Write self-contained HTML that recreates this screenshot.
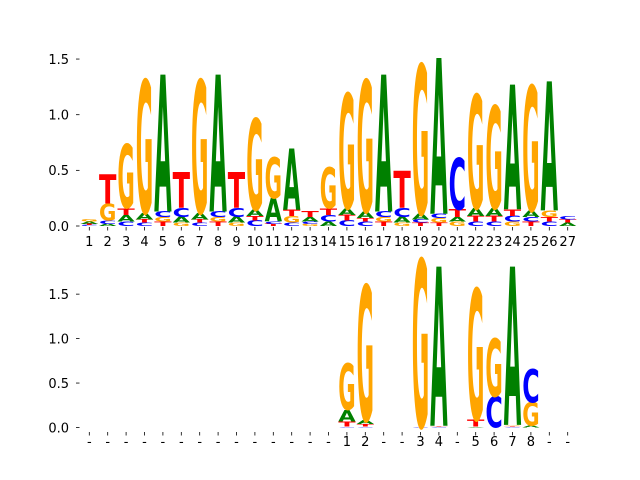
<!DOCTYPE html>
<html><head><meta charset="utf-8"><style>
html,body{margin:0;padding:0;background:#fff;}
svg{display:block;font-family:"DejaVu Sans","Liberation Sans",sans-serif;}
</style></head><body>
<svg id="chart" width="640" height="480" viewBox="0 0 640 480" xmlns="http://www.w3.org/2000/svg"></svg>
<script>
// ---- data ----
// each position: stacked letters bottom-to-top [letter, height in bits]
const topPositions = [
 [["C",.01],["T",.01],["A",.02],["G",.02]],
 [["A",.02],["C",.03],["G",.15],["T",.26]],
 [["C",.04],["A",.06],["T",.06],["G",.57]],
 [["C",.03],["T",.03],["A",.06],["G",1.19]],
 [["T",.04],["G",.04],["C",.05],["A",1.23]],
 [["G",.03],["A",.05],["C",.08],["T",.32]],
 [["C",.03],["T",.03],["A",.06],["G",1.19]],
 [["T",.04],["G",.04],["C",.05],["A",1.23]],
 [["G",.03],["A",.05],["C",.08],["T",.32]],
 [["C",.05],["T",.04],["A",.06],["G",.82]],
 [["T",.02],["C",.02],["A",.21],["G",.37]],
 [["C",.03],["G",.06],["T",.06],["A",.55]],
 [["G",.02],["C",.02],["A",.04],["T",.05]],
 [["A",.04],["C",.06],["T",.06],["G",.37]],
 [["C",.05],["T",.05],["A",.06],["G",1.03]],
 [["C",.04],["T",.03],["A",.06],["G",1.18]],
 [["T",.04],["G",.04],["C",.05],["A",1.23]],
 [["G",.03],["A",.05],["C",.08],["T",.33]],
 [["T",.03],["C",.03],["A",.05],["G",1.34]],
 [["T",.03],["G",.04],["C",.04],["A",1.40]],
 [["G",.04],["A",.04],["T",.07],["C",.46]],
 [["C",.04],["T",.05],["A",.07],["G",1.02]],
 [["C",.04],["T",.05],["A",.07],["G",.92]],
 [["G",.04],["C",.05],["T",.06],["A",1.12]],
 [["T",.04],["C",.04],["A",.06],["G",1.12]],
 [["C",.04],["T",.04],["G",.06],["A",1.16]],
 [["A",.03],["T",.03],["C",.03]]
];
const bottomPositions = [
 [],[],[],[],[],[],[],[],[],[],[],[],[],[],
 [["C",.01],["T",.06],["A",.13],["G",.52]],
 [["C",.01],["T",.03],["A",.04],["G",1.52]],
 [],[],
 [["C",.01],["G",1.88]],
 [["C",.01],["T",.01],["A",1.79]],
 [],
 [["A",.01],["T",.08],["G",1.47]],
 [["C",.35],["G",.65]],
 [["C",.01],["T",.01],["G",.01],["A",1.78]],
 [["A",.02],["G",.26],["C",.37]],
 [],[]
];
const topXLabels = ["1","2","3","4","5","6","7","8","9","10","11","12","13","14","15","16","17","18","19","20","21","22","23","24","25","26","27"];
const bottomXLabels = ["-","-","-","-","-","-","-","-","-","-","-","-","-","-","1","2","-","-","3","4","-","5","6","7","8","-","-"];
const topYTicks = [0,0.5,1.0,1.5];
const bottomYTicks = [0,0.5,1.0,1.5];
const colors = {A:"#008000",C:"#0000ff",G:"#ffa500",T:"#ff0000"};

const NS="http://www.w3.org/2000/svg";
const svg=document.getElementById('chart');
function el(tag,attrs,parent){const e=document.createElementNS(NS,tag);for(const k in attrs)e.setAttribute(k,attrs[k]);(parent||svg).appendChild(e);return e;}

function xScale(i){return 89.3+i*18.4;}
function drawPanel(positions,xlabels,yticks,zeroY,unit,name,labelY,tickTop){
  const yS=v=>zeroY-v*unit;
  const g=el('g',{});
  
  
  const w=17.4;
  positions.forEach((stack,i)=>{
    let cum=0;
    stack.forEach(([L,h])=>{
      const yb=yS(cum), yt=yS(cum+h);
      const ph=yb-yt;
      cum+=h;
      if(ph<=0.05)return;
      const t=el('text',{x:0,y:0,'font-size':100,'font-weight':'bold',fill:colors[L],
        textLength:w,lengthAdjust:'spacingAndGlyphs',
        transform:`translate(${xScale(i)-w/2},${yb}) scale(1,${ph/72.9})`},g);
      
      
      t.textContent=L;
    });
  });
  xlabels.forEach((lab,i)=>{
    const x=xScale(i);
    const tk=el('line',{x1:x,x2:x,y1:tickTop,y2:tickTop+3.5,stroke:'#000','stroke-width':0.8},g);
    
    
    const t=el('text',{x:x,y:labelY,'font-size':13,'text-anchor':'middle',fill:'#000'},g);
    
    
    t.textContent=lab;
  });
  yticks.forEach(v=>{
    const y=yS(v);
    const tk=el('line',{x1:76,x2:79.5,y1:y,y2:y,stroke:'#000','stroke-width':0.8},g);
    
    
    const t=el('text',{x:69,y:y+4.8,'font-size':13,'text-anchor':'end',fill:'#000'},g);
    
    
    t.textContent=v.toFixed(1);
  });
}
drawPanel(topPositions,topXLabels,topYTicks,226,111.3,'top-logo-panel',246,227);
drawPanel(bottomPositions,bottomXLabels,bottomYTicks,427.5,88.9,'bottom-logo-panel',446,432);
</script>
</body></html>
